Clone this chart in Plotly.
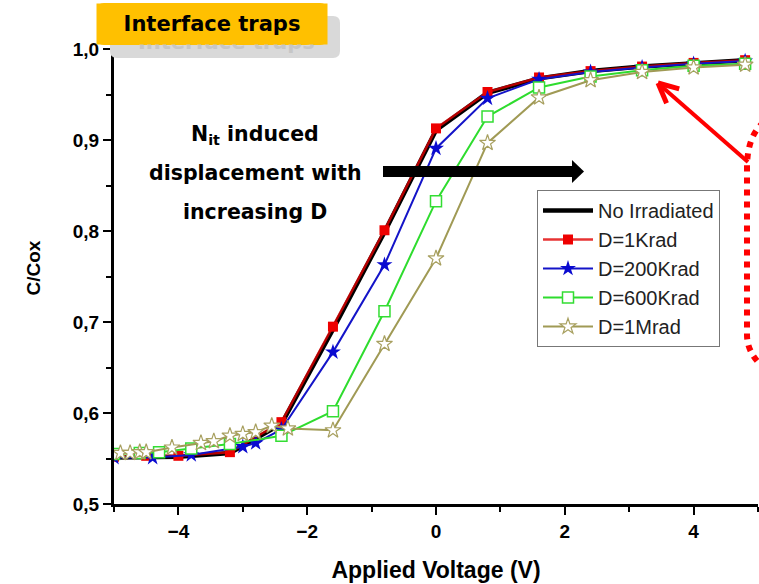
import math
import plotly.graph_objects as go

# ---------------- data ----------------
v_ref = [-5.0, -4.5, -4.0, -3.2, -2.4, -1.6, -0.8, 0.0, 0.8, 1.6, 2.4, 3.2, 4.0, 4.8]
c_ref = [0.551, 0.552, 0.552, 0.556, 0.588, 0.692, 0.799, 0.911, 0.952, 0.968, 0.976, 0.981, 0.985, 0.988]

v_1k = [-5.0, -4.5, -4.0, -3.2, -2.4, -1.6, -0.8, 0.0, 0.8, 1.6, 2.4, 3.2, 4.0, 4.8]
c_1k = [0.552, 0.553, 0.553, 0.557, 0.590, 0.695, 0.801, 0.913, 0.953, 0.969, 0.976, 0.981, 0.985, 0.988]

v_200k = [-5.0, -4.4, -3.8, -3.0, -2.8, -2.4, -1.6, -0.8, 0.0, 0.8, 1.6, 2.4, 3.2, 4.0, 4.8]
c_200k = [0.551, 0.551, 0.554, 0.563, 0.567, 0.582, 0.667, 0.763, 0.891, 0.946, 0.967, 0.975, 0.980, 0.984, 0.987]

v_600k = [-5.0, -4.6, -4.3, -3.8, -3.2, -2.4, -1.6, -0.8, 0.0, 0.8, 1.6, 2.4, 3.2, 4.0, 4.8]
c_600k = [0.555, 0.556, 0.557, 0.561, 0.566, 0.575, 0.602, 0.712, 0.833, 0.926, 0.958, 0.970, 0.977, 0.982, 0.984]

v_1m = [-4.9, -4.75, -4.6, -4.5, -4.1, -3.65, -3.45, -3.2, -3.0, -2.8, -2.55, -2.3, -1.6, -0.8, 0.0, 0.8, 1.6, 2.4, 3.2, 4.0, 4.8]
c_1m = [0.556, 0.556, 0.557, 0.557, 0.562, 0.567, 0.569, 0.575, 0.577, 0.579, 0.586, 0.583, 0.581, 0.676, 0.770, 0.897, 0.947, 0.966, 0.975, 0.980, 0.983]

series_names = ["No Irradiated", "D=1Krad", "D=200Krad", "D=600Krad", "D=1Mrad"]
x_ticks = [-4, -2, 0, 2, 4]
y_ticks = [0.5, 0.6, 0.7, 0.8, 0.9, 1.0]

# ---------------- layout geometry (pixels) ----------------
W, H = 759, 584
PL, PR, PT, PB = 114, 758, 32, 504


def px(x):
    return (x - PL) / (PR - PL)


def py(y):
    return (PB - y) / (PB - PT)


def rrect(x0, y0, x1, y1, r):
    X0, X1 = px(x0), px(x1)
    Y0, Y1 = py(y0), py(y1)
    rx = r / (PR - PL)
    ry = r / (PB - PT)
    return (f"M{X0+rx},{Y0} L{X1-rx},{Y0} Q{X1},{Y0} {X1},{Y0-ry} "
            f"L{X1},{Y1+ry} Q{X1},{Y1} {X1-rx},{Y1} L{X0+rx},{Y1} "
            f"Q{X0},{Y1} {X0},{Y1+ry} L{X0},{Y0-ry} Q{X0},{Y0} {X0+rx},{Y0} Z")


fig = go.Figure()

fig.add_trace(go.Scatter(x=v_ref, y=c_ref, name=series_names[0], mode="lines",
                         line=dict(color="black", width=4.5)))
fig.add_trace(go.Scatter(x=v_1k, y=c_1k, name=series_names[1], mode="lines+markers",
                         line=dict(color="rgba(225,0,0,0.8)", width=2.5),
                         marker=dict(symbol="square", size=10, color="#ee0000",
                                     line=dict(width=0))))
fig.add_trace(go.Scatter(x=v_200k, y=c_200k, name=series_names[2], mode="lines+markers",
                         line=dict(color="#1414c8", width=2),
                         marker=dict(symbol="star", size=12, color="#0a0ad0",
                                     line=dict(width=0))))
fig.add_trace(go.Scatter(x=v_600k, y=c_600k, name=series_names[3], mode="lines+markers",
                         line=dict(color="#2edc2e", width=2),
                         marker=dict(symbol="square", size=11, color="white",
                                     line=dict(color="#33dd33", width=1.5))))
fig.add_trace(go.Scatter(x=v_1m, y=c_1m, name=series_names[4], mode="lines+markers",
                         line=dict(color="#a09a55", width=2),
                         marker=dict(symbol="star", size=12, color="white",
                                     line=dict(color="#a8a060", width=1.2))))

tickfont = dict(family="Liberation Sans, Arial", size=19, color="black", weight="bold")

shapes = []
# shadow + label box
shapes.append(dict(type="path", xref="paper", yref="paper", path=rrect(110, 16, 340, 58, 7),
                   fillcolor="#d9d9d9", line=dict(width=0), layer="above"))
shapes.append(dict(type="path", xref="paper", yref="paper", path=rrect(97, 3, 327, 45, 7),
                   fillcolor="#FFC000", line=dict(width=0), layer="above"))
# black arrow
shapes.append(dict(type="rect", xref="paper", yref="paper", x0=px(383), x1=px(573),
                   y0=py(166), y1=py(177), fillcolor="black", line=dict(width=0)))
shapes.append(dict(type="path", xref="paper", yref="paper",
                   path=f"M{px(572)},{py(160)} L{px(584)},{py(171.5)} L{px(572)},{py(183)} Z",
                   fillcolor="black", line=dict(width=0)))
# red arrow
tip = (658, 83)
tail = (748, 162)
shapes.append(dict(type="line", xref="paper", yref="paper", x0=px(tail[0]), y0=py(tail[1]),
                   x1=px(tip[0] + 2), y1=py(tip[1] + 2), line=dict(color="#ff0000", width=4)))
dx, dy = tail[0] - tip[0], tail[1] - tip[1]
L = math.hypot(dx, dy)
ux, uy = dx / L, dy / L
for ang in (0.45, -0.45):
    ca, sa = math.cos(ang), math.sin(ang)
    wx = ux * ca - uy * sa
    wy = ux * sa + uy * ca
    shapes.append(dict(type="line", xref="paper", yref="paper", x0=px(tip[0]), y0=py(tip[1]),
                       x1=px(tip[0] + 22 * wx), y1=py(tip[1] + 22 * wy),
                       line=dict(color="#ff0000", width=5)))
# red dotted curve
shapes.append(dict(type="path", xref="paper", yref="paper",
                   path=(f"M{px(764)},{py(122)} Q{px(747)},{py(136)} {px(747)},{py(168)} "
                         f"L{px(747)},{py(335)} Q{px(747)},{py(352)} {px(762)},{py(366)}"),
                   line=dict(color="#ff0000", width=6, dash="dot")))


def ann(x, y, text, font, **kw):
    d = dict(x=px(x), y=py(y), xref="paper", yref="paper", text=text, showarrow=False,
             xanchor="center", yanchor="middle", font=font)
    d.update(kw)
    return d


bold_dv = dict(family="DejaVu Sans", size=21, color="black", weight="bold")
annotations = [
    ann(226, 42, "Interface traps", dict(bold_dv, color="#c6c6c6")),
    ann(212, 24, "Interface traps", bold_dv, bgcolor="#FFC000", width=214, height=24, borderpad=8),
    ann(255, 135, "N<sub>it</sub> induced", dict(bold_dv, size=20.5)),
    ann(255, 173, "displacement with", dict(bold_dv, size=20.5)),
    ann(255, 212, "increasing D", dict(bold_dv, size=20.5)),
]

fig.update_layout(
    width=W, height=H,
    margin=dict(l=PL, r=W - PR, t=PT, b=H - PB, autoexpand=False),
    paper_bgcolor="white", plot_bgcolor="white",
    separators=",.",
    showlegend=True,
    legend=dict(x=px(537), y=py(190), xanchor="left", yanchor="top",
                bgcolor="white", bordercolor="#777777", borderwidth=1,
                font=dict(family="Liberation Sans, Arial", size=20, color="#222222"),
                itemwidth=50, tracegroupgap=0),
    xaxis=dict(range=[-5, 5], tickvals=x_ticks, ticks="outside", ticklen=8, tickwidth=2,
               tickcolor="black", showline=True, linecolor="black", linewidth=3,
               showgrid=False, zeroline=False, tickfont=tickfont,
               minor=dict(dtick=1, ticks="outside", ticklen=5, tickwidth=2, tickcolor="black"),
               title=dict(text="Applied Voltage (V)", standoff=22,
                          font=dict(family="Liberation Sans, Arial", size=23, color="black",
                                    weight="bold"))),
    yaxis=dict(range=[0.5, 1.019], tickvals=y_ticks, tickformat=".1f", ticks="outside",
               ticklen=8, tickwidth=2, tickcolor="black", showline=True, linecolor="black",
               linewidth=3, showgrid=False, zeroline=False, tickfont=tickfont,
               minor=dict(dtick=0.05, ticks="outside", ticklen=5, tickwidth=2, tickcolor="black"),
               title=dict(text="C/Cox", standoff=28,
                          font=dict(family="Liberation Sans, Arial", size=19, color="black",
                                    weight="bold"))),
    xaxis2=dict(range=[-5, 5], overlaying="x", side="top", anchor="y", tickvals=x_ticks,
                ticks="inside", ticklen=8, tickwidth=2, tickcolor="black", showline=True,
                linecolor="black", linewidth=2, showticklabels=False, showgrid=False,
                zeroline=False),
    yaxis2=dict(range=[0.5, 1.019], overlaying="y", side="right", anchor="x", tickvals=y_ticks,
                ticks="inside", ticklen=8, tickwidth=2, tickcolor="black", showline=True,
                linecolor="black", linewidth=2, showticklabels=False, showgrid=False,
                zeroline=False),
    shapes=shapes,
    annotations=annotations,
)

fig.write_html("out.html", config={"displayModeBar": False},
               post_script="document.body.style.margin='0px';")
